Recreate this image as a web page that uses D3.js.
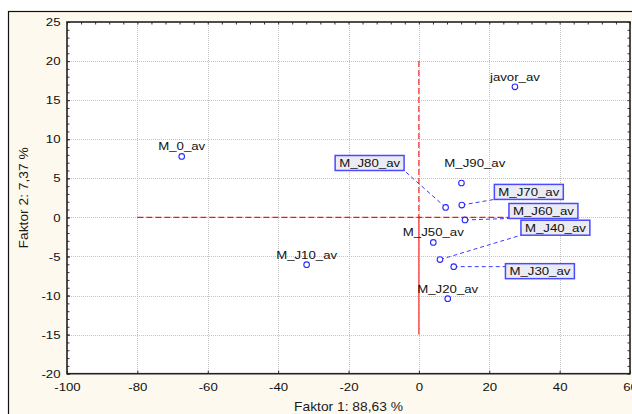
<!DOCTYPE html>
<html>
<head>
<meta charset="utf-8">
<script src="https://cdn.jsdelivr.net/npm/d3@7"></script>
<style>
  html, body { margin: 0; padding: 0; background: #ffffff; }
  svg { display: block; font-family: "Liberation Sans", Arial, sans-serif; }
</style>
</head>
<body>
<svg id="chart" width="632" height="414"></svg>
<script>
// ---- data ----
const names = ["M_0_av", "javor_av", "M_J10_av", "M_J90_av", "M_J80_av", "M_J70_av",
               "M_J60_av", "M_J50_av", "M_J40_av", "M_J30_av", "M_J20_av"];
const factor1 = [-67.4, 27.3, -31.9, 12.1, 7.6, 12.2, 13.1, 4.1, 6.0, 9.9, 8.2];
const factor2 = [7.8, 16.7, -6.05, 4.4, 1.28, 1.58, -0.33, -3.2, -5.4, -6.3, -10.4];

const xTickValues = [-100, -80, -60, -40, -20, 0, 20, 40, 60];
const yTickValues = [-20, -15, -10, -5, 0, 5, 10, 15, 20, 25];
const xTitle = "Faktor 1: 88,63 %";
const yTitle = "Faktor 2: 7,37 %";

// callout (boxed) labels: name -> box centre in data units
const calloutNames = ["M_J80_av", "M_J70_av", "M_J60_av", "M_J40_av", "M_J30_av"];
const calloutX = [-14.0, 31.25, 35.4, 38.8, 34.4];
const calloutY = [6.96, 3.26, 0.82, -1.32, -6.88];
// moved plain label
const movedNames = ["M_J90_av"];
const movedX = [15.9];
const movedY = [6.5];

// reference lines (data units)
const refH = { y: 0, x1: -80, x2: 26 };
const refV = { x: 0, y1: 20, y2: -15 };

// ---- layout ----
const svg = d3.select("#chart");
const L = 67, R = 630, T = 22, B = 373.7;
const SX = 1.15; // horizontal stretch of the original text
const x = d3.scaleLinear().domain([-100, 60]).range([L, R]);
const y = d3.scaleLinear().domain([-20, 25]).range([B, T]);

// outer panel
svg.append("rect").attr("x", 8.5).attr("y", 11.5).attr("width", 640).attr("height", 420)
  .attr("fill", "#fdf9ee").attr("stroke", "#111").attr("stroke-width", 1.2);
// plot area
svg.append("rect").attr("x", L).attr("y", T).attr("width", R - L).attr("height", B - T)
  .attr("fill", "#ffffff");

// grid
const grid = svg.append("g").attr("stroke", "#c4c4c4").attr("stroke-width", 1)
  .attr("stroke-dasharray", "1,1");
grid.selectAll("line.gx").data(xTickValues.slice(1, -1)).join("line")
  .attr("x1", d => Math.round(x(d)) + 0.5).attr("x2", d => Math.round(x(d)) + 0.5)
  .attr("y1", T).attr("y2", B);
grid.selectAll("line.gy").data(yTickValues.slice(1, -1)).join("line")
  .attr("y1", d => Math.round(y(d)) + 0.5).attr("y2", d => Math.round(y(d)) + 0.5)
  .attr("x1", L).attr("x2", R);

// minor ticks
const xMinor = d3.range(-100, 60.1, 4);
const yMinor = d3.range(-20, 25.1, 1);
function minorAxis(axisFn, scale, vals, tr) {
  const g = svg.append("g").attr("transform", tr)
    .call(axisFn(scale).tickValues(vals).tickSize(-2.5).tickFormat(""));
  g.select(".domain").remove();
  g.selectAll("line").attr("stroke", "#333");
}
minorAxis(d3.axisTop, x, xMinor, `translate(0,${T})`);
minorAxis(d3.axisLeft, y, yMinor, `translate(${L},0)`);
minorAxis(d3.axisRight, y, yMinor, `translate(${R},0)`);

// major axes
const fmt = d => String(d);
const gx = svg.append("g").attr("transform", `translate(0,${B})`)
  .call(d3.axisBottom(x).tickValues(xTickValues).tickFormat(fmt).tickSize(-3).tickPadding(8.8));
const gy = svg.append("g").attr("transform", `translate(${L},0)`)
  .call(d3.axisLeft(y).tickValues(yTickValues).tickFormat(fmt).tickSize(-3).tickPadding(6.5));
[gx, gy].forEach(g => {
  g.select(".domain").remove();
  g.selectAll("line").attr("stroke", "#333");
  g.selectAll("text").attr("fill", "#111").style("font-size", "11.5px")
    .attr("font-family", "Liberation Sans, Arial, sans-serif")
    .attr("transform", `scale(${SX},1)`);
});
gx.selectAll("text").attr("x", 0);
gy.selectAll("text").attr("x", -6.5 / SX);

// plot border
svg.append("rect").attr("x", L).attr("y", T).attr("width", R - L).attr("height", B - T)
  .attr("fill", "none").attr("stroke", "#222").attr("stroke-width", 1.6);

// reference lines
const RED = "#f01818";
svg.append("line").attr("x1", x(refH.x1)).attr("x2", x(refH.x2))
  .attr("y1", y(refH.y)).attr("y2", y(refH.y))
  .attr("stroke", RED).attr("stroke-width", 1.1).attr("stroke-dasharray", "6,3");
svg.append("line").attr("x1", x(refV.x)).attr("x2", x(refV.x))
  .attr("y1", y(refV.y1)).attr("y2", y(0))
  .attr("stroke", RED).attr("stroke-width", 1.1).attr("stroke-dasharray", "6,3");
svg.append("line").attr("x1", x(refV.x)).attr("x2", x(refV.x))
  .attr("y1", y(0)).attr("y2", y(refV.y2))
  .attr("stroke", RED).attr("stroke-width", 1.1);

// points data
const pts = names.map((n, i) => ({ name: n, fx: factor1[i], fy: factor2[i] }));

// callouts
const callG = svg.append("g");
const callouts = calloutNames.map((n, i) => ({ name: n, cx: calloutX[i], cy: calloutY[i],
  p: pts.find(p => p.name === n) }));
callouts.forEach(c => {
  const cxp = x(c.cx), cyp = y(c.cy);
  const t = callG.append("text").text(c.name).attr("text-anchor", "middle")
    .style("font-size", "11.5px").attr("fill", "#111")
    .attr("transform", `translate(${cxp},${cyp + 4}) scale(${SX},1)`);
  const w = t.node().getComputedTextLength() * SX + 8, h = 15;
  const bx = cxp - w / 2, by = cyp - h / 2;
  const px = x(c.p.fx), py = y(c.p.fy);
  const ex = Math.max(bx, Math.min(bx + w, px));
  const ey = Math.max(by, Math.min(by + h, py));
  callG.insert("line", "text").attr("x1", px).attr("y1", py).attr("x2", ex).attr("y2", ey)
    .attr("stroke", "#3a3aff").attr("stroke-width", 1).attr("stroke-dasharray", "4,3");
  callG.insert("rect", "text").attr("x", bx).attr("y", by).attr("width", w).attr("height", h)
    .attr("fill", "#ebebf3").attr("stroke", "#4a4aff").attr("stroke-width", 1.5);
});

// plain labels
pts.filter(p => !calloutNames.includes(p.name)).forEach(p => {
  const mi = movedNames.indexOf(p.name);
  const lx = mi >= 0 ? x(movedX[mi]) : x(p.fx);
  const ly = mi >= 0 ? y(movedY[mi]) : y(p.fy) - 6;
  svg.append("text").text(p.name).attr("text-anchor", "middle")
    .style("font-size", "11.5px").attr("fill", "#111")
    .attr("transform", `translate(${lx},${ly}) scale(${SX},1)`);
});

// points
svg.append("g").selectAll("circle").data(pts).join("circle")
  .attr("cx", d => x(d.fx)).attr("cy", d => y(d.fy)).attr("r", 2.8)
  .attr("fill", "#ffffff").attr("stroke", "#2a2aff").attr("stroke-width", 1.1);

// axis titles
svg.append("text").text(xTitle).attr("text-anchor", "middle")
  .style("font-size", "12px").attr("fill", "#1a1a1a")
  .attr("transform", `translate(${(L + R) / 2},${410.5}) scale(${SX},1)`);
svg.append("text").text(yTitle).attr("text-anchor", "middle")
  .style("font-size", "12px").attr("fill", "#1a1a1a")
  .attr("transform", `translate(28,${(T + B) / 2}) rotate(-90) scale(${SX},1)`);
</script>
</body>
</html>
